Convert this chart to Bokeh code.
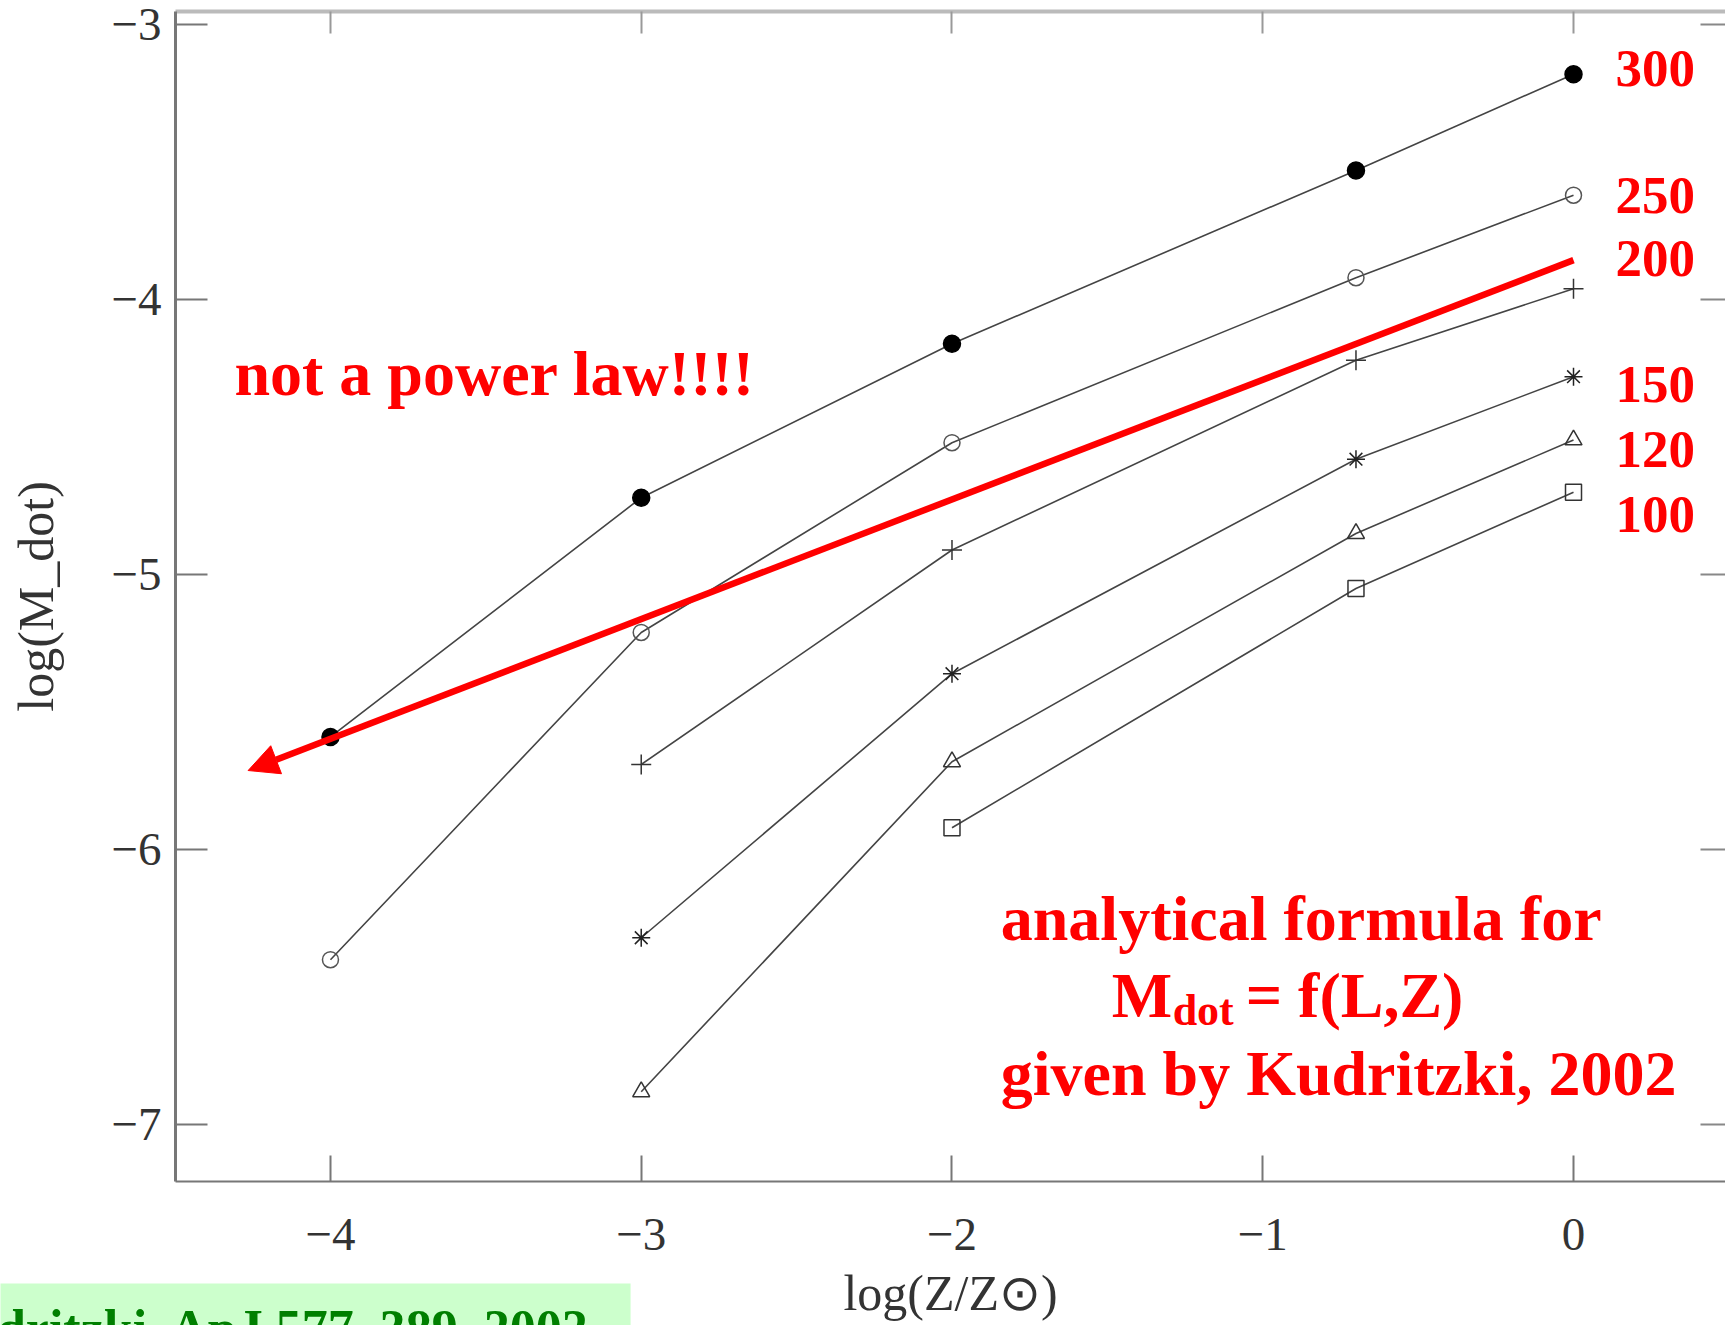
from bokeh.plotting import figure
from bokeh.models import Range1d, LinearAxis, FixedTicker, Label, Arrow, NormalHead
from bokeh.core.properties import value
from bokeh.embed import file_html
from bokeh.resources import INLINE

# ---------------- data ----------------
z_300 = [-4, -3, -2, -0.7, 0]
mdot_300 = [-5.59, -4.72, -4.16, -3.53, -3.18]
z_250 = [-4, -3, -2, -0.7, 0]
mdot_250 = [-6.40, -5.21, -4.52, -3.92, -3.62]
z_200 = [-3, -2, -0.7, 0]
mdot_200 = [-5.69, -4.91, -4.22, -3.96]
z_150 = [-3, -2, -0.7, 0]
mdot_150 = [-6.32, -5.36, -4.58, -4.28]
z_120 = [-3, -2, -0.7, 0]
mdot_120 = [-6.88, -5.68, -4.85, -4.51]
z_100 = [-2, -0.7, 0]
mdot_100 = [-5.92, -5.05, -4.70]

series_labels = ["300", "250", "200", "150", "120", "100"]
series_label_y = [-3.16, -3.62, -3.85, -4.31, -4.545, -4.78]

power_law_z = [0, -4.265]
power_law_mdot = [-3.856, -5.712]

x_ticks = [-4, -3, -2, -1, 0]
x_tick_labels = ["\u22124", "\u22123", "\u22122", "\u22121", "0"]
y_ticks = [-7, -6, -5, -4, -3]
y_tick_labels = ["\u22127", "\u22126", "\u22125", "\u22124", "\u22123"]

# axes box (data limits of the drawn frame)
X_LO, X_HI = -4.4987, 0.4987
Y_LO, Y_HI = -7.2065, -2.952

# ---------------- figure ----------------
W, H = 1725, 1325
p = figure(width=W, height=H, output_backend="svg", toolbar_location=None,
           x_range=Range1d(-5.0618, 0.4891), y_range=Range1d(-7.730, -2.912),
           x_axis_location=None, y_axis_location=None,
           min_border_left=0, min_border_right=0, min_border_top=0,
           min_border_bottom=0)
p.outline_line_color = None
p.grid.visible = False
p.background_fill_color = "white"
p.border_fill_color = "white"

TICK_FONT = "Liberation Serif"

bottom = LinearAxis(fixed_location=Y_LO, bounds=(X_LO, X_HI),
                    ticker=FixedTicker(ticks=x_ticks),
                    major_label_overrides=dict(zip(x_ticks, x_tick_labels)),
                    major_tick_in=26, major_tick_out=0, minor_tick_line_color=None,
                    axis_line_color="#777777", axis_line_width=2,
                    major_tick_line_color="#777777", major_tick_line_width=2,
                    major_label_text_font=TICK_FONT, major_label_text_font_size="47px",
                    major_label_text_color="#333333", major_label_standoff=37,
                    axis_label="log(Z/Z\u2299)", axis_label_text_font=TICK_FONT,
                    axis_label_text_font_size="50px", axis_label_text_font_style="normal",
                    axis_label_text_color="#333333", axis_label_standoff=12)
p.add_layout(bottom, "below")

left = LinearAxis(fixed_location=X_LO, bounds=(Y_LO, Y_HI),
                  ticker=FixedTicker(ticks=y_ticks),
                  major_label_overrides=dict(zip(y_ticks, y_tick_labels)),
                  major_tick_in=32, major_tick_out=0, minor_tick_line_color=None,
                  axis_line_color="#777777", axis_line_width=3,
                  major_tick_line_color="#777777", major_tick_line_width=2,
                  major_label_text_font=TICK_FONT, major_label_text_font_size="47px",
                  major_label_text_color="#333333", major_label_standoff=14,
                  axis_label="log(M_dot)", axis_label_text_font=TICK_FONT,
                  axis_label_text_font_size="50px", axis_label_text_font_style="normal",
                  axis_label_text_color="#333333", axis_label_standoff=44)
p.add_layout(left, "left")

top = LinearAxis(fixed_location=Y_HI, bounds=(X_LO, X_HI),
                 ticker=FixedTicker(ticks=x_ticks),
                 major_label_overrides={t: "" for t in x_ticks},
                 major_label_text_font_size="0px", major_label_standoff=0,
                 major_tick_in=22, major_tick_out=0, minor_tick_line_color=None,
                 axis_line_color="#bbbbbb", axis_line_width=4,
                 major_tick_line_color="#999999", major_tick_line_width=2)
p.add_layout(top, "above")

right = LinearAxis(fixed_location=X_HI, bounds=(Y_LO, Y_HI),
                   ticker=FixedTicker(ticks=y_ticks),
                   major_label_overrides={t: "" for t in y_ticks},
                   major_label_text_font_size="0px", major_label_standoff=0,
                   major_tick_in=28, major_tick_out=0, minor_tick_line_color=None,
                   axis_line_color="#888888", axis_line_width=2,
                   major_tick_line_color="#888888", major_tick_line_width=2)
p.add_layout(right, "right")

# ---------------- series ----------------
series = [
    (z_300, mdot_300, "circle", "black", "black", 17),
    (z_250, mdot_250, "circle", None, "#555555", 16),
    (z_200, mdot_200, "cross", None, "#333333", 20),
    (z_150, mdot_150, "asterisk", None, "#222222", 18),
    (z_120, mdot_120, "triangle", None, "#333333", 17),
    (z_100, mdot_100, "square", None, "#333333", 16),
]
for xs, ys, mk, fc, lc, sz in series:
    p.line(xs, ys, line_color="#444444", line_width=1.6)
    p.scatter(xs, ys, marker=mk, size=sz, fill_color=fc, line_color=lc, line_width=1.5)

# ---------------- annotations ----------------
RED = "#ff0000"
SERIF = value("Liberation Serif")

p.add_layout(Arrow(end=NormalHead(size=30, fill_color=RED, line_color=RED, line_width=1),
                   x_start=power_law_z[0], y_start=power_law_mdot[0],
                   x_end=power_law_z[1], y_end=power_law_mdot[1],
                   line_color=RED, line_width=6.5))

p.text(x=[0.135] * len(series_labels), y=series_label_y, text=series_labels,
       text_font=SERIF, text_font_style="bold", text_font_size="53px",
       text_color=RED, text_baseline="middle", text_align="left")

p.text(x=[-4.309], y=[-4.27], text=["not a power law!!!!"],
       text_font=SERIF, text_font_style="bold", text_font_size="64px",
       text_color=RED, text_baseline="alphabetic", text_align="left")

p.text(x=[-1.843], y=[-6.25], text=["analytical formula for"],
       text_font=SERIF, text_font_style="bold", text_font_size="64px",
       text_color=RED, text_baseline="alphabetic", text_align="left")
p.text(x=[-1.486], y=[-6.53], text=["M"],
       text_font=SERIF, text_font_style="bold", text_font_size="64px",
       text_color=RED, text_baseline="alphabetic", text_align="left")
p.text(x=[-1.290], y=[-6.585], text=["dot"],
       text_font=SERIF, text_font_style="bold", text_font_size="44px",
       text_color=RED, text_baseline="alphabetic", text_align="left")
p.text(x=[-1.055], y=[-6.53], text=["= f(L,Z)"],
       text_font=SERIF, text_font_style="bold", text_font_size="64px",
       text_color=RED, text_baseline="alphabetic", text_align="left")
p.text(x=[-1.843], y=[-6.812], text=["given by Kudritzki, 2002"],
       text_font=SERIF, text_font_style="bold", text_font_size="64px",
       text_color=RED, text_baseline="alphabetic", text_align="left")

# reference box (partly cut at the left edge, as in the original slide)
p.add_layout(Label(x=-5.361, y=-7.766, text="Kudritzki, ApJ 577, 389, 2002",
                   text_font="Liberation Serif", text_font_style="bold",
                   text_font_size="52px", text_color="#007f00",
                   text_baseline="alphabetic",
                   background_fill_color="#ccffcc",
                   padding=dict(left=20, right=40, top=17, bottom=30)))

open("out.html", "w").write(file_html(p, INLINE))
